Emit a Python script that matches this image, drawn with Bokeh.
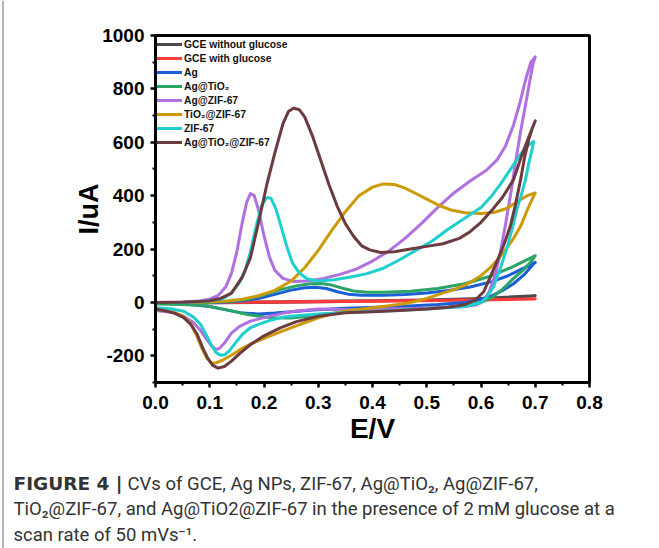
from bokeh.plotting import figure
from bokeh.layouts import column, row
from bokeh.models import FixedTicker, PrintfTickFormatter, Legend, LegendItem, Range1d
from bokeh.core.properties import value
from bokeh.embed import file_html
from bokeh.resources import INLINE

# ---------------- data ----------------
names = ["GCE without glucose", "GCE with glucose", "Ag", "Ag@TiO\u2082",
         "Ag@ZIF-67", "TiO\u2082@ZIF-67", "ZIF-67", "Ag@TiO\u2082@ZIF-67"]
colors = ["#4a4a4a", "#ff3b3b", "#1a5fd8", "#2aa566",
          "#b070e0", "#cc9a06", "#1fcfcf", "#6b3b3f"]

gce_x = [0, 0.1, 0.2, 0.3, 0.4, 0.5, 0.6, 0.7, 0.6, 0.4, 0.2, 0.0]
gce_y = [0, 1, 2, 4, 6, 9, 15, 25, 12, 5, 0, -3]

gceg_x = [0, 0.1, 0.2, 0.3, 0.4, 0.5, 0.6, 0.7, 0.6, 0.4, 0.2, 0.0]
gceg_y = [0, 1, 2, 3, 5, 7, 10, 13, 9, 4, 1, -2]

ag_x = [0, 0.05, 0.1, 0.13, 0.16, 0.19, 0.22, 0.25, 0.275, 0.295, 0.315, 0.335, 0.355, 0.38, 0.42,
        0.46, 0.5, 0.54, 0.58, 0.62, 0.65, 0.675, 0.7,
        0.695, 0.68, 0.66, 0.64, 0.62, 0.6, 0.57, 0.52, 0.45, 0.35, 0.29, 0.25, 0.22, 0.19, 0.16,
        0.13, 0.1, 0.05, 0.0]
ag_y = [0, 0, 0, 2, 6, 15, 30, 46, 55, 57, 52, 40, 31, 27, 27,
        30, 35, 45, 58, 78, 100, 125, 150,
        140, 105, 70, 45, 25, 12, 0, -8, -15, -22, -28, -35, -40, -43, -40,
        -28, -15, -5, -3]

agt_x = [0, 0.05, 0.1, 0.14, 0.17, 0.2, 0.23, 0.26, 0.285, 0.305, 0.325, 0.345, 0.365, 0.39,
         0.42, 0.47, 0.52, 0.57, 0.62, 0.66, 0.69, 0.7,
         0.695, 0.68, 0.66, 0.64, 0.62, 0.6, 0.57, 0.52, 0.46, 0.4, 0.34, 0.29, 0.25, 0.21,
         0.17, 0.13, 0.09, 0.05, 0.0]
agt_y = [0, 0, 1, 4, 12, 28, 48, 62, 70, 71, 65, 53, 43, 38,
         38, 42, 52, 70, 100, 135, 165, 175,
         160, 125, 90, 50, 18, 0, -12, -20, -25, -30, -38, -50, -58, -57,
         -45, -27, -12, -8, -6]

agz_x = [0, 0.05, 0.08, 0.1, 0.115, 0.13, 0.14, 0.15, 0.16, 0.168, 0.175, 0.182, 0.19, 0.2,
         0.21, 0.22, 0.235, 0.255, 0.28, 0.31, 0.34, 0.37, 0.4, 0.43, 0.46, 0.49, 0.52, 0.55,
         0.58, 0.61, 0.63, 0.645, 0.66, 0.672, 0.683, 0.692, 0.7,
         0.696, 0.69, 0.682, 0.673, 0.664, 0.655, 0.645, 0.635, 0.625, 0.615, 0.605, 0.59,
         0.56, 0.5, 0.43, 0.36, 0.3, 0.26, 0.236, 0.2, 0.175, 0.155, 0.14, 0.128, 0.118,
         0.112, 0.104, 0.095, 0.083, 0.07, 0.052, 0.03, 0.0]
agz_y = [0, 2, 5, 12, 25, 60, 110, 190, 300, 375, 408, 400, 345, 250,
         170, 120, 90, 78, 80, 90, 105, 125, 155, 192, 240, 295, 355, 410,
         455, 495, 535, 585, 665, 750, 840, 900, 920,
         895, 830, 740, 640, 530, 410, 290, 180, 95, 40, 5, -10,
         -17, -22, -25, -27, -25, -32, -40, -57, -70, -90, -115, -150, -172,
         -176, -165, -140, -105, -75, -52, -37, -30]

tz_x = [0, 0.05, 0.1, 0.13, 0.16, 0.19, 0.22, 0.25, 0.275, 0.3, 0.325, 0.35, 0.375, 0.4,
        0.42, 0.44, 0.46, 0.48, 0.5, 0.52, 0.545, 0.57, 0.6, 0.625, 0.645, 0.665, 0.685, 0.7,
        0.695, 0.685, 0.673, 0.66, 0.648, 0.633, 0.617, 0.6, 0.575, 0.55, 0.525, 0.5, 0.464,
        0.42, 0.38, 0.34, 0.3, 0.27, 0.236, 0.2, 0.175, 0.155, 0.14, 0.125, 0.112, 0.104,
        0.095, 0.085, 0.075, 0.065, 0.05, 0.03, 0.0]
tz_y = [0, 0, 2, 5, 12, 25, 45, 80, 130, 195, 270, 340, 400, 432,
        444, 442, 428, 408, 387, 366, 346, 336, 333, 338, 350, 375, 400, 410,
        390, 345, 285, 240, 205, 165, 130, 100, 69, 48, 32, 15, -3,
        -15, -25, -35, -58, -80, -106, -135, -156, -178, -198, -215, -226, -228,
        -210, -170, -120, -80, -50, -35, -25]

zif_x = [0, 0.05, 0.1, 0.125, 0.14, 0.155, 0.165, 0.175, 0.185, 0.195, 0.205, 0.213, 0.222,
         0.232, 0.242, 0.252, 0.265, 0.28, 0.3, 0.33, 0.36, 0.39, 0.42, 0.45, 0.48, 0.51, 0.54,
         0.57, 0.6, 0.62, 0.636, 0.655, 0.673, 0.688, 0.697,
         0.695, 0.688, 0.682, 0.674, 0.667, 0.658, 0.648, 0.636, 0.623, 0.61, 0.6, 0.57, 0.5,
         0.42, 0.35, 0.3, 0.26, 0.236, 0.21, 0.19, 0.175, 0.16, 0.148, 0.137, 0.128, 0.12,
         0.112, 0.103, 0.093, 0.083, 0.07, 0.052, 0.03, 0.0]
zif_y = [0, 0, 5, 15, 35, 75, 120, 190, 280, 360, 393, 390, 350,
         280, 210, 150, 110, 88, 80, 85, 95, 108, 128, 160, 195, 230, 275,
         315, 356, 400, 443, 500, 556, 590, 603,
         580, 520, 460, 400, 355, 280, 205, 130, 58, 18, 0, -15, -25,
         -32, -38, -43, -50, -55, -68, -82, -95, -120, -150, -180, -196, -198,
         -188, -160, -120, -82, -55, -33, -25, -20]

atz_x = [0, 0.05, 0.08, 0.1, 0.12, 0.14, 0.16, 0.175, 0.19, 0.205, 0.22, 0.235, 0.245, 0.255,
         0.265, 0.275, 0.29, 0.305, 0.32, 0.335, 0.35, 0.365, 0.38, 0.395, 0.415, 0.44, 0.47,
         0.5, 0.53, 0.56, 0.58, 0.6, 0.62, 0.64, 0.66, 0.675, 0.69, 0.7,
         0.695, 0.688, 0.68, 0.673, 0.664, 0.654, 0.642, 0.63, 0.617, 0.605, 0.59, 0.57, 0.54,
         0.5, 0.45, 0.4, 0.35, 0.3, 0.26, 0.23, 0.2, 0.175, 0.155, 0.14, 0.127, 0.115, 0.105,
         0.096, 0.087, 0.077, 0.065, 0.052, 0.035, 0.015, 0.0]
atz_y = [0, 1, 3, 6, 15, 35, 95, 168, 300, 440, 560, 670, 715, 728,
         722, 695, 620, 530, 440, 360, 295, 248, 212, 197, 187, 190, 200,
         210, 220, 240, 265, 300, 345, 395, 460, 550, 630, 680,
         655, 610, 540, 460, 370, 285, 215, 156, 95, 40, 10, -8, -18,
         -25, -30, -35, -39, -52, -72, -95, -125, -158, -192, -220, -240, -246, -235,
         -208, -170, -120, -82, -57, -40, -30, -25]

series_x = [gce_x, gceg_x, ag_x, agt_x, agz_x, tz_x, zif_x, atz_x]
series_y = [gce_y, gceg_y, ag_y, agt_y, agz_y, tz_y, zif_y, atz_y]

x_ticks = [0.0, 0.1, 0.2, 0.3, 0.4, 0.5, 0.6, 0.7, 0.8]
x_minor = [0.05, 0.15, 0.25, 0.35, 0.45, 0.55, 0.65, 0.75]
y_ticks = [-200, 0, 200, 400, 600, 800, 1000]
y_minor = [-300, -100, 100, 300, 500, 700, 900]

caption_bold = "FIGURE 4 |"
caption_1 = "CVs of GCE, Ag NPs, ZIF-67, Ag@TiO\u2082, Ag@ZIF-67,"
caption_2 = "TiO\u2082@ZIF-67, and Ag@TiO2@ZIF-67 in the presence of 2\u2009mM glucose at a"
caption_3 = "scan rate of 50 mVs\u207b\u00b9."

# ---------------- page edge (thin grey frame line on the left) ----------------
EW, TOTAL_H = 5, 548
edge = figure(width=EW, height=TOTAL_H, output_backend="svg", toolbar_location=None,
              x_range=Range1d(0, EW), y_range=Range1d(TOTAL_H, 0),
              x_axis_location=None, y_axis_location=None,
              min_border=0, min_border_left=0, min_border_right=0,
              min_border_top=0, min_border_bottom=0)
edge.grid.visible = False
edge.outline_line_color = None
edge.border_fill_color = "white"
edge.background_fill_color = "white"
edge.line([2.5, 2.5], [0, TOTAL_H], line_color="#b5b5b5", line_width=2)

# ---------------- main chart ----------------
W, H = 650, 455
p = figure(width=W, height=H, output_backend="svg", toolbar_location=None,
           x_range=Range1d(0, 0.8), y_range=Range1d(-300, 1000),
           min_border_left=155 - EW, min_border_right=W - (589 - EW), min_border_top=35,
           min_border_bottom=H - 382)
p.grid.visible = False
p.outline_line_color = "black"
p.outline_line_width = 3
p.background_fill_color = "white"
p.border_fill_color = "white"

for ax in (p.xaxis[0], p.yaxis[0]):
    ax.axis_line_width = 3
    ax.axis_line_color = "black"
    ax.major_tick_line_width = 2.5
    ax.minor_tick_line_width = 2
    ax.major_tick_in = 0
    ax.major_tick_out = 5
    ax.minor_tick_in = 0
    ax.minor_tick_out = 3
    ax.major_label_text_font = "Liberation Sans"
    ax.major_label_text_font_style = "bold"
    ax.major_label_text_font_size = "19px"
    ax.major_label_text_color = "black"
    ax.axis_label_text_font = "Liberation Sans"
    ax.axis_label_text_font_style = "bold"
    ax.axis_label_text_color = "black"

p.xaxis.ticker = FixedTicker(ticks=x_ticks, minor_ticks=x_minor)
p.yaxis.ticker = FixedTicker(ticks=y_ticks, minor_ticks=y_minor)
p.xaxis.formatter = PrintfTickFormatter(format="%.1f")
p.yaxis.formatter = PrintfTickFormatter(format="%d")
p.xaxis.axis_label = "E/V"
p.yaxis.axis_label = "I/uA"
p.xaxis.axis_label_text_font_size = "28px"
p.yaxis.axis_label_text_font_size = "27px"
p.xaxis.major_label_standoff = 8
p.yaxis.major_label_standoff = 6
p.xaxis.axis_label_standoff = 1
p.yaxis.axis_label_standoff = -5

items = []
for nm, c, xs, ys in zip(names, colors, series_x, series_y):
    r = p.line(xs, ys, line_color=c, line_width=3, line_join="round", line_cap="round")
    items.append(LegendItem(label=nm, renderers=[r]))

legend = Legend(items=items, location="top_left", margin=0, padding=2, spacing=0,
                glyph_width=25, glyph_height=14, label_height=14, label_standoff=2,
                label_text_font="Liberation Sans", label_text_font_style="bold",
                label_text_font_size="10.3px", label_text_color="#111111",
                background_fill_alpha=0, border_line_alpha=0)
p.add_layout(legend)

# ---------------- caption ----------------
CH = TOTAL_H - H
cap = figure(width=W, height=CH, output_backend="svg", toolbar_location=None,
             x_range=Range1d(EW, EW + W), y_range=Range1d(CH, 0),
             x_axis_location=None, y_axis_location=None,
             min_border=0, min_border_left=0, min_border_right=0,
             min_border_top=0, min_border_bottom=0)
cap.grid.visible = False
cap.outline_line_color = None
cap.background_fill_color = "white"
cap.border_fill_color = "white"
for fig in (edge, p, cap):
    try:
        fig.frame_align = False
    except AttributeError:
        pass

cap_size = value("18.5px")
cap_color = "#333333"
cap.text(x=[13], y=[28], text=[caption_bold], text_font=value("DejaVu Sans"),
         text_font_size=cap_size, text_font_style="bold", text_color=cap_color,
         text_baseline="middle")
cap.text(x=[127], y=[28], text=[caption_1], text_font=value("Roboto"), text_font_size=cap_size,
         text_color=cap_color, text_baseline="middle")
cap.text(x=[13], y=[53], text=[caption_2], text_font=value("Roboto"), text_font_size=cap_size,
         text_color=cap_color, text_baseline="middle")
cap.text(x=[13], y=[79], text=[caption_3], text_font=value("Roboto"), text_font_size=cap_size,
         text_color=cap_color, text_baseline="middle")

layout = row(edge, column(p, cap, spacing=0), spacing=0)
open("out.html", "w").write(file_html(layout, INLINE))
